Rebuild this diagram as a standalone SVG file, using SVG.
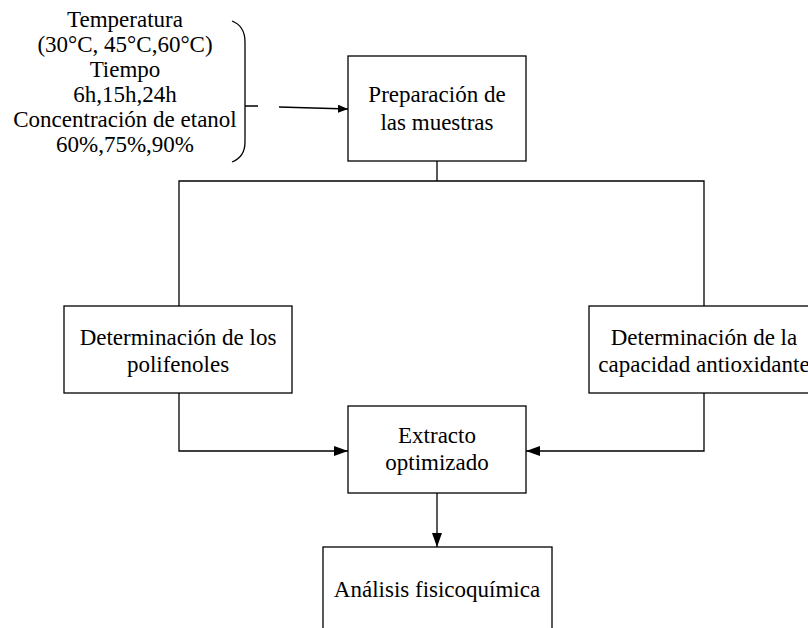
<svg xmlns="http://www.w3.org/2000/svg" width="808" height="628" viewBox="0 0 808 628">
<defs>
<marker id="ah" markerUnits="userSpaceOnUse" markerWidth="14" markerHeight="10" refX="14" refY="5" orient="auto">
<path d="M0,0 L14,5 L0,10 Z" fill="#000"/>
</marker>
<marker id="ahs" markerUnits="userSpaceOnUse" markerWidth="10" markerHeight="8" refX="10" refY="4" orient="auto">
<path d="M0,0 L10,4 L0,8 Z" fill="#000"/>
</marker>
<style>
.box{fill:#fff;stroke:#000;stroke-width:1.3}
text{font-family:'Liberation Serif','Times New Roman','DejaVu Serif',serif;font-size:23px;fill:#000;text-anchor:middle}
.c{fill:none;stroke:#000;stroke-width:1.3}
</style>
</defs>
<rect width="808" height="628" fill="#fff"/>
<g id="conditions" font-family="Liberation Serif, DejaVu Serif, serif">
<text x="125" y="27">Temperatura</text>
<text x="125" y="52">(30°C, 45°C,60°C)</text>
<text x="125" y="77">Tiempo</text>
<text x="125" y="102">6h,15h,24h</text>
<text x="125" y="127">Concentración de etanol</text>
<text x="125" y="152">60%,75%,90%</text>
<path class="c" d="M232,21 Q245,26 245,42 L245,142 Q245,157 232,162 M245,106 L258,106"/>
</g>
<g id="prep">
<rect class="box" x="348" y="56" width="178" height="105"/>
<text x="437" y="102">Preparación de</text>
<text x="437" y="130">las muestras</text>
</g>
<g id="polifenoles">
<rect class="box" x="64" y="306" width="228" height="87"/>
<text x="178" y="345">Determinación de los</text>
<text x="178" y="372">polifenoles</text>
</g>
<g id="antioxidante">
<rect class="box" x="589" y="306" width="232" height="87"/>
<text x="704" y="345">Determinación de la</text>
<text x="704" y="372">capacidad antioxidante</text>
</g>
<g id="extracto">
<rect class="box" x="348" y="406" width="178" height="87"/>
<text x="437" y="443">Extracto</text>
<text x="437" y="470">optimizado</text>
</g>
<g id="analisis">
<rect class="box" x="323" y="547" width="229" height="100"/>
<text x="437" y="597">Análisis fisicoquímica</text>
</g>
<g id="connectors">
<path class="c" d="M279,107 L348,109" marker-end="url(#ahs)"/>
<path class="c" d="M437,161 L437,181 M179,306 L179,181 L704,181 L704,306"/>
<path class="c" d="M179,393 L179,451 L348,451" marker-end="url(#ah)"/>
<path class="c" d="M704,393 L704,451 L526,451" marker-end="url(#ah)"/>
<path class="c" d="M437,493 L437,547" marker-end="url(#ah)"/>
</g>
</svg>
